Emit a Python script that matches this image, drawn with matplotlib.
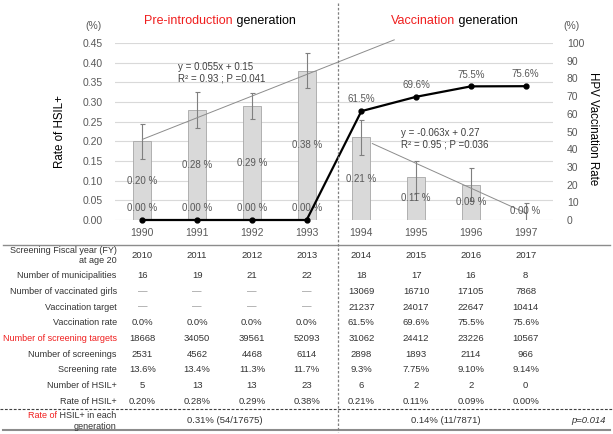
import numpy as np
import matplotlib
matplotlib.use("Agg")
import matplotlib.pyplot as plt
from matplotlib.transforms import blended_transform_factory

plt.rcParams['font.family'] = ['Liberation Sans', 'DejaVu Sans']

# ---------------- data ----------------
years = ["1990", "1991", "1992", "1993", "1994", "1995", "1996", "1997"]
fiscal_years = ["2010", "2011", "2012", "2013", "2014", "2015", "2016", "2017"]
hsil_rate = [0.20, 0.28, 0.29, 0.38, 0.21, 0.11, 0.09, 0.00]
hsil_err = [0.044, 0.045, 0.032, 0.044, 0.044, 0.041, 0.042, 0.043]
vacc_rate = [0.0, 0.0, 0.0, 0.0, 61.5, 69.6, 75.5, 75.6]

municipalities = ["16", "19", "21", "22", "18", "17", "16", "8"]
vaccinated_girls = ["\u2014", "\u2014", "\u2014", "\u2014", "13069", "16710", "17105", "7868"]
vaccination_target = ["\u2014", "\u2014", "\u2014", "\u2014", "21237", "24017", "22647", "10414"]
vaccination_rate_txt = ["0.0%", "0.0%", "0.0%", "0.0%", "61.5%", "69.6%", "75.5%", "75.6%"]
screening_targets = ["18668", "34050", "39561", "52093", "31062", "24412", "23226", "10567"]
screenings = ["2531", "4562", "4468", "6114", "2898", "1893", "2114", "966"]
screening_rate = ["13.6%", "13.4%", "11.3%", "11.7%", "9.3%", "7.75%", "9.10%", "9.14%"]
hsil_count = ["5", "13", "13", "23", "6", "2", "2", "0"]
hsil_rate_txt = ["0.20%", "0.28%", "0.29%", "0.38%", "0.21%", "0.11%", "0.09%", "0.00%"]

# trendlines (Excel fits, x counted from 1 within each generation)
pre_slope, pre_icpt = 0.055, 0.15
vac_slope, vac_icpt = -0.063, 0.27

RED = "#f01e1e"
GRAY = "#595959"
TXT = "#333333"

W, H = 613, 434
fig = plt.figure(figsize=(W / 100, H / 100), dpi=100)


def fx(px):
    return px / W


def fy(py):
    return 1 - py / H


ax = fig.add_axes([fx(115), fy(220), fx(553) - fx(115), fy(43) - fy(220)])
ax2 = ax.twinx()
x = np.arange(len(years))

# bars + error bars
ax.bar(x, hsil_rate, width=0.33, color="#d9d9d9", edgecolor="#a6a6a6", linewidth=0.6, zorder=2)
ax.errorbar(x, hsil_rate, yerr=hsil_err, fmt="none", ecolor="#7f7f7f", elinewidth=0.8,
            capsize=1.8, capthick=0.8, zorder=3)
for xi, v in zip(x, hsil_rate):
    ax.text(xi, max(v / 2, 0.024), f"{v:.2f} %", ha="center", va="center", fontsize=7, color=GRAY, zorder=4)

# trendlines
t1 = np.array([1.0, 5.6])
ax.plot(t1 - 1, pre_slope * t1 + pre_icpt, color="#8c8c8c", lw=0.7, zorder=3, clip_on=False)
t2 = np.array([1.2, 4.0])
ax.plot(t2 + 3, vac_slope * t2 + vac_icpt, color="#8c8c8c", lw=0.7, zorder=3, clip_on=False)

ax.set_xlim(-0.5, len(years) - 0.5)
ax.set_ylim(0, 0.45)
ax.set_yticks(np.arange(0, 0.451, 0.05))
ax.set_yticklabels([f"{t:.2f}" for t in np.arange(0, 0.451, 0.05)])
ax.set_xticks(x)
ax.set_xticklabels(years)
ax.yaxis.grid(True, color="#d9d9d9", lw=0.8)
ax.set_axisbelow(True)
ax.tick_params(axis="y", length=0, pad=9, labelsize=7.5, labelcolor=GRAY)
ax.tick_params(axis="x", length=0, pad=6, labelsize=7.5, labelcolor=GRAY)

# vaccination rate line
ax2.plot(x, vacc_rate, color="black", lw=1.6, marker="o", ms=3.5, clip_on=False, zorder=5)
for xi, v in zip(x, vacc_rate):
    lab = "0.00 %" if v == 0 else f"{v}%"
    ax2.annotate(lab, (xi, v), xytext=(0, 8.5), textcoords="offset points", ha="center",
                 va="center", fontsize=7, color=GRAY)
ax2.set_ylim(0, 100)
ax2.set_yticks(np.arange(0, 101, 10))
ax2.tick_params(axis="y", length=0, pad=10, labelsize=7.5, labelcolor=GRAY)

for a in (ax, ax2):
    for s in a.spines.values():
        s.set_visible(False)

# axis titles and units
fig.text(fx(60), fy(131), "Rate of HSIL+", rotation=90, ha="center", va="center", fontsize=8.3)
fig.text(fx(593), fy(129), "HPV Vaccination Rate", rotation=270, ha="center", va="center", fontsize=8.3)
fig.text(fx(94), fy(26), "(%)", ha="center", va="center", fontsize=7.5, color=GRAY)
fig.text(fx(571), fy(26), "(%)", ha="center", va="center", fontsize=7.5, color=GRAY)

# generation headers (red word followed by black word)
h1 = fig.text(fx(144), fy(21), "Pre-introduction", ha="left", va="center", fontsize=9, color=RED)
ax.annotate(" generation", xy=(1, 0), xycoords=h1, ha="left", va="bottom", fontsize=9, color="black")
h2 = fig.text(fx(391), fy(21), "Vaccination", ha="left", va="center", fontsize=9, color=RED)
ax.annotate(" generation", xy=(1, 0), xycoords=h2, ha="left", va="bottom", fontsize=9, color="black")

# regression equations
fig.text(fx(178), fy(66.7), "y = 0.055x + 0.15", ha="left", va="center", fontsize=7, color="#404040")
fig.text(fx(178), fy(78.7), "R\u00b2 = 0.93 ; P =0.041", ha="left", va="center", fontsize=7, color="#404040")
fig.text(fx(400.7), fy(132.7), "y = -0.063x + 0.27", ha="left", va="center", fontsize=7, color="#404040")
fig.text(fx(400.7), fy(144.3), "R\u00b2 = 0.95 ; P =0.036", ha="left", va="center", fontsize=7, color="#404040")

# ---------------- table ----------------
tr = blended_transform_factory(ax.transData, fig.transFigure)
lab_x = fx(116.7)

fig.text(lab_x, fy(255.5), "Screening Fiscal year (FY)\nat age 20", ha="right", va="center",
         multialignment="right", fontsize=6.5, color=TXT, linespacing=1.15)
for xi, v in zip(x, fiscal_years):
    fig.text(xi, fy(255.7), v, transform=tr, ha="center", va="center", fontsize=6.8, color=TXT)

rows = [
    ("Number of municipalities", municipalities, TXT),
    ("Number of vaccinated girls", vaccinated_girls, TXT),
    ("Vaccination target", vaccination_target, TXT),
    ("Vaccination rate", vaccination_rate_txt, TXT),
    ("Number of screening targets", screening_targets, RED),
    ("Number of screenings", screenings, TXT),
    ("Screening rate", screening_rate, TXT),
    ("Number of HSIL+", hsil_count, TXT),
    ("Rate of HSIL+", hsil_rate_txt, TXT),
]
for i, (label, vals, col) in enumerate(rows):
    yy = fy(275.8 + 15.65 * i)
    fig.text(lab_x, yy, label, ha="right", va="center", fontsize=6.5, color=col)
    for xi, v in zip(x, vals):
        c = "#8c8c8c" if v == "\u2014" else TXT
        fig.text(xi, yy, v, transform=tr, ha="center", va="center", fontsize=6.8, color=c)

# generation summary row
g1 = fig.text(lab_x, fy(415), " HSIL+ in each", ha="right", va="center", fontsize=6.5, color=TXT)
ax.annotate("Rate of", xy=(0, 0), xycoords=g1, ha="right", va="bottom", fontsize=6.5, color=RED)
fig.text(lab_x, fy(426.7), "generation", ha="right", va="center", fontsize=6.5, color=TXT)
fig.text(1.5, fy(420.7), "0.31% (54/17675)", transform=tr, ha="center", va="center", fontsize=6.8, color=TXT)
fig.text(5.55, fy(420.7), "0.14% (11/7871)", transform=tr, ha="center", va="center", fontsize=6.8, color=TXT)
fig.text(fx(588), fy(420.7), "p=0.014", ha="center", va="center", fontsize=6.8, color=TXT, style="italic")

# separator lines
fig.add_artist(plt.Line2D([fx(3), fx(610)], [fy(245.3), fy(245.3)], color="#8c8c8c", lw=1.0))
fig.add_artist(plt.Line2D([fx(0), fx(613)], [fy(409), fy(409)], color="#404040", lw=0.8,
                          linestyle=(0, (2.5, 1.5))))
fig.add_artist(plt.Line2D([fx(3), fx(610)], [fy(430.3), fy(430.3)], color="#8c8c8c", lw=1.5))
fig.add_artist(plt.Line2D([fx(337.7), fx(337.7)], [fy(3), fy(432)], color="#7f7f7f", lw=0.9,
                          linestyle=(0, (2, 1.5))))

fig.savefig("out.png", dpi=100)
